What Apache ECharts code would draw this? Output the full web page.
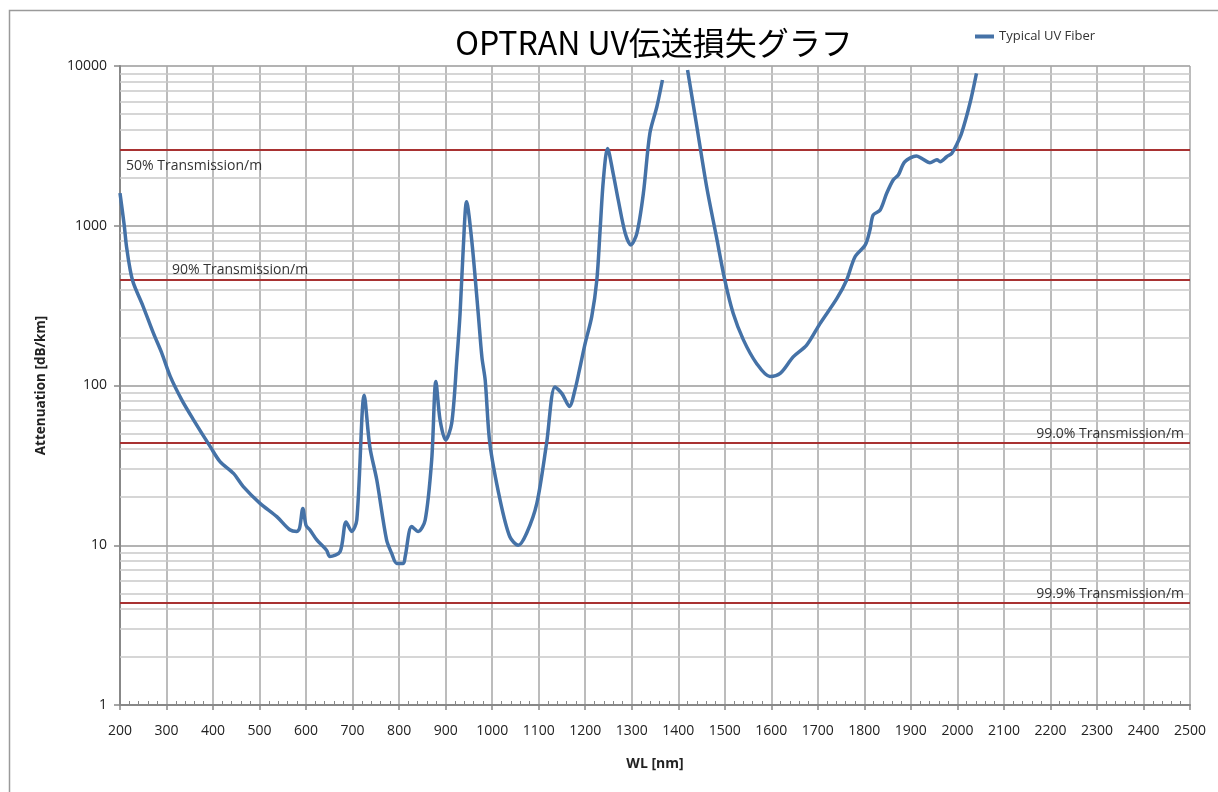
<!DOCTYPE html>
<html>
<head>
<meta charset="utf-8">
<script src="https://cdn.jsdelivr.net/npm/echarts@6/dist/echarts.min.js"></script>
<style>
  html, body { margin: 0; padding: 0; background: #fff; }
  #chart { width: 1218px; height: 792px; }
</style>
</head>
<body>
<div id="chart"></div>
<script>
// 波長 [nm]
const wavelengths = [
  200, 209, 214, 222, 229, 250, 272, 290, 308, 333, 358, 394, 415, 444, 465, 501, 537, 565, 580,
  586, 593, 600, 608, 623, 644, 651, 673, 686, 698, 709, 725, 737, 752, 773, 784, 795, 809, 813,
  827, 841, 856, 870, 879, 888, 900, 913, 924, 931, 938, 945, 956, 970, 978, 985, 995, 1017,
  1038, 1056, 1074, 1096, 1117, 1135, 1150, 1166, 1178, 1189, 1200, 1214, 1225, 1232, 1239,
  1248, 1260, 1271, 1286, 1298, 1311, 1325, 1339, 1354, 1366, 1390, 1420, 1440, 1461, 1482,
  1500, 1518, 1540, 1568, 1597, 1619, 1647, 1676, 1705, 1741, 1762, 1780, 1802, 1812, 1819,
  1834, 1848, 1862, 1873, 1887, 1912, 1923, 1941, 1956, 1963, 1977, 1988, 1998, 2009, 2027, 2041
];
// 損失 [dB/km] (null = 測定範囲外)
const attenuation = [
  1600, 1010, 740, 528, 436, 311, 212, 159, 114, 81, 61, 41.4, 33.4, 28.2, 23.3, 18.3, 15.1, 12.5, 12.2,
  12.8, 17.0, 13.3, 12.5, 10.8, 9.3, 8.5, 9.1, 14.0, 12.2, 14.4, 87, 41.4, 25.6, 10.8, 8.9, 7.7, 7.7, 8.5,
  13.1, 12.2, 14.4, 34.2, 106, 60.8, 45.6, 58, 144, 283, 739, 1415, 814, 283, 150, 108, 43.5, 19.2,
  11.3, 10.0, 11.9, 18.3, 43.5, 98, 89, 74, 94, 131, 184, 270, 458, 940, 1934,
  3050, 2130, 1449, 897, 758, 897, 1596, 3792, 5560, 8170, null, 9440, 4170, 1756, 854,
  458, 283, 193, 138, 114, 119, 151, 179, 245, 351, 458, 640, 758, 940, 1167,
  1255, 1596, 1934, 2078, 2518, 2733, 2640, 2481, 2588, 2518, 2705, 2841, 3203, 3792, 5842, 9000
];
// 基準線 (透過率/m)
const transmissions = [0.5, 0.9, 0.99, 0.999];
const transLabels = ['50% Transmission/m', '90% Transmission/m', '99.0% Transmission/m', '99.9% Transmission/m'];

const toDbKm = t => -10 * Math.log10(t) * 1000;

// 対数軸の補助目盛線 (2〜9)
const minorGrid = [];
for (let d = 1; d < 10000; d *= 10) {
  for (let k = 2; k <= 9; k++) minorGrid.push({ yAxis: k * d });
}

const labelStyles = [
  { position: 'insideStartBottom', distance: [6, 10] },
  { position: 'insideStartTop', distance: [52, 3] },
  { position: 'insideEndTop', distance: [6, 2] },
  { position: 'insideEndTop', distance: [6, 2] }
];

const chart = echarts.init(document.getElementById('chart'));

chart.setOption({
  animation: false,
  backgroundColor: '#fff',
  title: {
    text: 'OPTRAN UV伝送損失グラフ',
    left: 649,
    top: 22,
    textAlign: 'center',
    textStyle: {
      fontFamily: 'Noto Sans CJK JP',
      fontSize: 32,
      fontWeight: 'normal',
      color: '#000'
    }
  },
  legend: {
    left: 970,
    top: 25,
    itemWidth: 19,
    itemHeight: 4,
    itemGap: 4,
    icon: 'rect',
    textStyle: { fontSize: 13, color: '#333', fontFamily: 'Open Sans' },
    data: ['Typical UV Fiber']
  },
  graphic: [{
    type: 'rect',
    shape: { x: 9.5, y: 10.5, width: 1300, height: 900 },
    style: { fill: 'none', stroke: '#9a9a9a', lineWidth: 1.5 },
    silent: true
  }],
  grid: { left: 120, right: 28, top: 66, bottom: 87 },
  xAxis: [
    {
      type: 'value',
      min: 200,
      max: 2500,
      interval: 100,
      name: 'WL [nm]',
      nameLocation: 'middle',
      nameGap: 52,
      nameTextStyle: { fontWeight: 'bold', fontSize: 14, color: '#222', fontFamily: 'Open Sans' },
      axisLine: { lineStyle: { color: '#888', width: 2 } },
      axisTick: { length: 5, lineStyle: { color: '#888', width: 1.5 } },
      axisLabel: { fontSize: 14, color: '#222', margin: 19, fontFamily: 'Open Sans', formatter: v => String(v) },
      splitLine: { show: true, lineStyle: { color: '#a6a6a6', width: 1.5 } }
    },
    {
      // 内向きの補助目盛
      type: 'value',
      position: 'bottom',
      min: 200,
      max: 2500,
      interval: 100,
      axisLine: { show: false },
      axisTick: { show: false, inside: true },
      minorTick: { show: true, splitNumber: 5, length: 4, lineStyle: { color: '#888', width: 1 } },
      axisLabel: { show: false },
      splitLine: { show: false }
    }
  ],
  yAxis: {
    type: 'log',
    logBase: 10,
    min: 1,
    max: 10000,
    name: 'Attenuation [dB/km]',
    nameLocation: 'middle',
    nameGap: 72,
    nameTextStyle: { fontWeight: 'bold', fontSize: 13.5, color: '#222', fontFamily: 'Open Sans' },
    axisLine: { show: true, lineStyle: { color: '#888', width: 2 } },
    axisTick: { show: true, length: 6, lineStyle: { color: '#888', width: 1.5 } },
    axisLabel: { fontSize: 14, color: '#222', margin: 13, fontFamily: 'Open Sans', formatter: v => String(Math.round(v)) },
    splitLine: { show: true, lineStyle: { color: '#9a9a9a', width: 1.5 } }
  },
  series: [
    {
      name: 'minor',
      type: 'line',
      data: [],
      silent: true,
      z: 0,
      markLine: {
        silent: true,
        symbol: 'none',
        label: { show: false },
        lineStyle: { type: 'solid', color: '#c8c8c8', width: 1.5 },
        data: minorGrid
      }
    },
    {
      name: 'ref',
      type: 'line',
      data: [],
      silent: true,
      z: 3,
      markLine: {
        silent: true,
        symbol: 'none',
        lineStyle: { type: 'solid', color: '#a83232', width: 2 },
        label: { color: '#333', fontSize: 14, fontFamily: 'Open Sans' },
        data: transmissions.map((t, i) => ({
          yAxis: toDbKm(t),
          label: Object.assign({ show: true, formatter: transLabels[i] }, labelStyles[i])
        }))
      }
    },
    {
      name: 'Typical UV Fiber',
      type: 'line',
      z: 5,
      data: wavelengths.map((w, i) => [w, attenuation[i]]),
      smooth: 0.3,
      connectNulls: false,
      showSymbol: false,
      lineStyle: { color: '#4572a7', width: 3.5 },
      itemStyle: { color: '#4572a7' }
    }
  ]
});
</script>
</body>
</html>
